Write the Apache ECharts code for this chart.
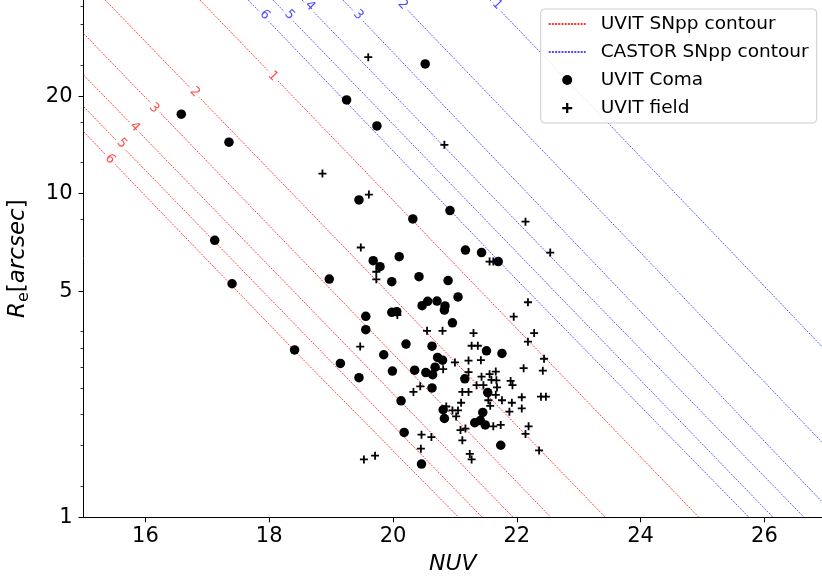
<!DOCTYPE html>
<html><head><meta charset="utf-8">
<script src="https://cdn.jsdelivr.net/npm/echarts@6/dist/echarts.min.js"></script>
<style>html,body{margin:0;padding:0;background:#fff}#c{width:822px;height:582px}</style>
</head><body><div id="c"></div>
<script>
// ---- axis settings ----
const xRange = [15, 26.93];
const yRange = [1, 39.7];
const xTicks = [16, 18, 20, 22, 24, 26];
const yTickLabels = [1, 5, 10, 20];
const yMinorTicks = [1.25, 1.667, 2.083, 2.5, 2.917, 3.333, 3.75, 8.33, 12.5, 16.67, 25, 33.3, 38.1];

// ---- contour levels and their traced paths [NUV, Re] ----
const uvitLevels = ['1', '2', '3', '4', '5', '6'];
const uvitPaths = [
  [[16.88, 39.7], [24.94, 1]],
  [[15.35, 39.7], [23.43, 1]],
  [[15, 31.3], [22.55, 1]],
  [[15, 23.3], [21.94, 1]],
  [[15, 18.6], [21.44, 1]],
  [[15, 15.56], [18.50, 3.14], [21.06, 1]]
];
const uvitLabelPos = [[18.06, 23.1], [16.80, 20.6], [16.14, 18.4], [15.83, 16.1], [15.62, 14.3], [15.43, 12.8]];

const castorLevels = ['1', '2', '3', '4', '5', '6'];
const castorPaths = [
  [[21.57, 39.7], [25.90, 5.42], [29.56, 1]],
  [[20.08, 39.7], [24.42, 5.42], [28.09, 1]],
  [[19.19, 39.7], [23.51, 5.42], [27.17, 1]],
  [[18.53, 39.7], [22.91, 5.42], [26.64, 1]],
  [[18.06, 39.7], [22.43, 5.42], [26.14, 1]],
  [[17.66, 39.7], [22.00, 5.42], [25.75, 1]]
];
const castorLabelPos = [[21.68, 38.4], [20.16, 38.4], [19.44, 35.7], [18.66, 38.1], [18.33, 35.7], [17.93, 35.7]];

// ---- UVIT Coma galaxies ----
const comaNUV = [16.58, 17.35, 17.12, 17.40, 18.41, 19.15, 19.45, 18.97, 19.25, 19.74,
  19.45, 20.32, 20.52, 20.92, 21.17, 21.43, 21.70, 19.68, 19.79, 20.10,
  19.98, 20.42, 20.89, 21.05, 19.56, 19.56, 19.98, 20.06, 20.47, 20.56,
  20.71, 20.84, 20.83, 20.96, 20.21, 20.63, 19.85, 19.99, 20.35, 20.53,
  20.64, 20.72, 20.80, 20.68, 20.63, 20.13, 20.18, 20.46, 21.51, 21.76,
  21.16, 21.53, 20.81, 20.83, 21.45, 21.32, 21.41, 21.49, 21.74];
const comaRe = [17.61, 14.43, 7.18, 5.27, 3.29, 2.99, 2.70, 5.45, 19.50, 16.20,
  9.57, 8.36, 25.19, 8.87, 6.70, 6.58, 6.17, 6.21, 5.95, 6.39,
  5.35, 5.54, 5.39, 4.80, 4.18, 3.80, 4.30, 4.32, 4.51, 4.65,
  4.66, 4.50, 4.37, 3.99, 3.43, 3.38, 3.18, 2.83, 2.85, 2.80,
  2.76, 3.12, 3.06, 2.91, 2.51, 2.29, 1.83, 1.46, 3.27, 3.21,
  2.68, 2.43, 2.15, 2.02, 2.11, 1.96, 1.99, 1.93, 1.67];

// ---- UVIT field galaxies ----
const fieldNUV = [19.60, 18.86, 19.61, 19.48, 19.73, 19.73, 20.07, 20.83, 22.14, 22.54,
  21.56, 21.62, 22.18, 21.95, 20.55, 20.80, 21.30, 22.28, 22.18, 21.27,
  21.37, 19.47, 22.44, 22.42, 22.11, 21.00, 21.22, 21.42, 20.81, 21.22,
  21.43, 21.56, 21.66, 21.59, 21.67, 21.35, 21.46, 21.68, 21.90, 21.93,
  20.33, 20.44, 21.12, 21.22, 21.66, 21.54, 21.57, 21.76, 22.08, 22.39,
  22.47, 21.10, 21.92, 22.08, 21.88, 20.86, 20.96, 21.05, 21.02, 21.62,
  21.74, 22.19, 22.14, 21.09, 21.17, 21.12, 20.46, 20.62, 20.45, 22.36,
  21.24, 21.27, 19.53, 19.71];
const fieldRe = [26.42, 11.54, 9.94, 6.82, 5.74, 5.44, 4.22, 14.16, 8.20, 6.58,
  6.17, 6.17, 4.62, 4.17, 3.77, 3.77, 3.71, 3.71, 3.49, 3.39,
  3.39, 3.37, 3.09, 2.84, 2.89, 3.01, 3.05, 3.06, 2.87, 2.81,
  2.72, 2.77, 2.82, 2.66, 2.65, 2.56, 2.56, 2.52, 2.64, 2.56,
  2.44, 2.54, 2.44, 2.44, 2.39, 2.30, 2.21, 2.30, 2.35, 2.36,
  2.36, 2.26, 2.26, 2.17, 2.12, 2.20, 2.14, 2.14, 2.05, 1.91,
  1.93, 1.91, 1.81, 1.86, 1.88, 1.73, 1.80, 1.77, 1.63, 1.61,
  1.57, 1.51, 1.51, 1.55];

// ---- styles ----
const FONT = 'DejaVu Sans';
const RED = 'rgba(255,0,0,0.8)';
const BLUE = 'rgba(0,0,255,0.7)';
const CLEAR = 'rgba(0,0,0,0)';
const PLUS = 'path://M0,3.1H8V4.9H0ZM3.1,0H4.9V8H3.1Z';

const series = [];
uvitPaths.forEach(function (p) {
  series.push({ name: 'UVIT SNpp contour', type: 'line', data: p, symbol: 'none', clip: true, z: 2,
    lineStyle: { color: RED, width: 0.9, type: [2, 1.2] }, itemStyle: { color: CLEAR, opacity: 0 }, silent: true });
});
castorPaths.forEach(function (p) {
  series.push({ name: 'CASTOR SNpp contour', type: 'line', data: p, symbol: 'none', clip: true, z: 2,
    lineStyle: { color: BLUE, width: 0.9, type: [2, 1.2] }, itemStyle: { color: CLEAR, opacity: 0 }, silent: true });
});
function labelSeries(levels, pos, color) {
  return { type: 'scatter', z: 3, symbolSize: 1, itemStyle: { color: CLEAR }, clip: false, silent: true,
    data: levels.map(function (l, i) { return { name: l, value: pos[i] }; }),
    label: { show: true, position: 'inside', formatter: '{b}', rotate: -46, color: color, fontFamily: FONT,
      fontSize: 13, backgroundColor: '#ffffff', padding: [0, 3] } };
}
series.push(labelSeries(uvitLevels, uvitLabelPos, '#ff2020'));
series.push(labelSeries(castorLevels, castorLabelPos, '#2020ff'));
series.push({ name: 'UVIT Coma', type: 'scatter', z: 5, symbol: 'circle', symbolSize: 9.5,
  itemStyle: { color: '#000', opacity: 1 }, data: comaNUV.map(function (v, i) { return [v, comaRe[i]]; }) });
series.push({ name: 'UVIT field', type: 'scatter', z: 6, symbol: PLUS, symbolSize: 8, symbolKeepAspect: true,
  itemStyle: { color: '#000', opacity: 1 }, data: fieldNUV.map(function (v, i) { return [v, fieldRe[i]]; }) });

const chart = echarts.init(document.getElementById('c'), null, { renderer: 'canvas' });
chart.setOption({
  animation: false,
  backgroundColor: '#fff',
  grid: { left: 83.5, right: 0, top: 0, bottom: 64.7, outerBoundsMode: 'none' },
  xAxis: {
    type: 'value', min: xRange[0], max: xRange[1],
    name: 'NUV', nameLocation: 'middle', nameGap: 36,
    nameTextStyle: { fontFamily: FONT, fontSize: 22, fontStyle: 'italic', color: '#000' },
    axisLine: { show: true, lineStyle: { color: '#000', width: 1 } },
    axisTick: { show: true, length: 5, lineStyle: { color: '#000' }, customValues: xTicks },
    axisLabel: { fontFamily: FONT, fontSize: 21, color: '#000', margin: 9, customValues: xTicks },
    splitLine: { show: false }
  },
  yAxis: [{
    type: 'log', logBase: 10, min: yRange[0], max: yRange[1],
    name: '{r|R}{s|e}{n|[}{r|arcsec}{n|]}', nameLocation: 'middle', nameGap: 50,
    nameTextStyle: { fontFamily: FONT, color: '#000', fontSize: 23,
      rich: { r: { fontFamily: FONT, fontSize: 23, fontStyle: 'italic', lineHeight: 30, verticalAlign: 'middle' },
              s: { fontFamily: FONT, fontSize: 16, lineHeight: 30, verticalAlign: 'bottom', padding: [0, 0, 2, 0] },
              n: { fontFamily: FONT, fontSize: 23, lineHeight: 30, verticalAlign: 'middle' } } },
    axisLine: { show: true, lineStyle: { color: '#000', width: 1 } },
    axisTick: { show: true, length: 5, lineStyle: { color: '#000' }, customValues: yTickLabels },
    axisLabel: { fontFamily: FONT, fontSize: 21, color: '#000', margin: 11, customValues: yTickLabels,
      formatter: function (v) { return String(Math.round(v)); } },
    splitLine: { show: false }, minorTick: { show: false }
  }, {
    type: 'log', logBase: 10, min: yRange[0], max: yRange[1], position: 'left',
    axisLine: { show: false },
    axisTick: { show: true, length: 3, lineStyle: { color: '#000', width: 0.8 }, customValues: yMinorTicks },
    axisLabel: { show: false, customValues: yMinorTicks },
    splitLine: { show: false }
  }],
  legend: {
    data: ['UVIT SNpp contour', 'CASTOR SNpp contour', 'UVIT Coma', 'UVIT field'],
    orient: 'vertical', left: 540.7, top: 9, itemWidth: 37, itemHeight: 10, itemGap: 8,
    padding: [5, 8, 5, 7], backgroundColor: 'rgba(255,255,255,0.85)', borderColor: '#cccccc',
    borderWidth: 1, borderRadius: 4, selectedMode: false,
    textStyle: { fontFamily: FONT, fontSize: 18.5, color: '#000', lineHeight: 20, padding: [0, 0, 0, 10] }
  },
  series: series
});
</script></body></html>
